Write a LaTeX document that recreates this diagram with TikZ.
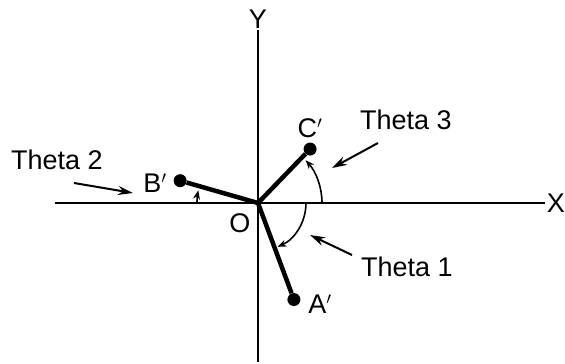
\documentclass[tikz,border=0pt]{standalone}
\usepackage{fontspec}
\setmainfont{Liberation Sans}
\usetikzlibrary{arrows.meta}

\begin{document}
\begin{tikzpicture}[x=1pt,y=1pt,
  lbl/.style={font=\fontsize{27}{31}\selectfont, inner sep=0pt},
  dot/.style={circle, fill, inner sep=0pt, minimum size=13pt},
  arm/.style={line width=4.5pt},
  axis/.style={line width=2.5pt},
  arcline/.style={line width=1.6pt, -{Stealth[length=9pt,width=7pt]}},
  pointer/.style={line width=2pt, -{Stealth[length=15pt,width=9pt]}}]
\useasboundingbox (-258,-161) rectangle (307,203);
% axes
\coordinate (O) at (0,0);
\draw[axis] (-203,0) -- (287,0);
\draw[axis] (0,173) -- (0,-159);
\node[lbl] (xl) at (298,0) {X};
\node[lbl] (yl) at (0,184) {Y};
\node[lbl] (ol) at (-18,-20) {O};
% arms
\node[dot] (C) at (46:75) {};
\node[dot] (B) at (164:81) {};
\node[dot] (A) at (-69.6:103) {};
\draw[arm] (O) -- (C);
\draw[arm] (O) -- (B);
\draw[arm] (O) -- (A);
\node[lbl] (cl) at (52,75) {C$'$};
\node[lbl] (bl) at (-103,20) {B$'$};
\node[lbl] (al) at (62,-101) {A$'$};
% angles
\draw[arcline] (64,0) arc[start angle=0, end angle=42, radius=64];
\draw[arcline] (48,0) arc[start angle=0, end angle=-66, radius=48];
\draw[arcline] (-61,0) arc[start angle=180, end angle=168, radius=61];
% labels and pointers
\node[lbl] (t3) at (148,83) {Theta 3};
\node[lbl] (t2) at (-201,43) {Theta 2};
\node[lbl] (t1) at (149,-64) {Theta 1};
\coordinate (p3s) at (120,60);
\coordinate (p3e) at (74,35);
\coordinate (p2s) at (-184,20);
\coordinate (p2e) at (-125,10);
\coordinate (p1s) at (94,-52);
\coordinate (p1e) at (52,-32);
\draw[pointer] (p3s) -- (p3e);
\draw[pointer] (p2s) -- (p2e);
\draw[pointer] (p1s) -- (p1e);
\end{tikzpicture}
\end{document}
